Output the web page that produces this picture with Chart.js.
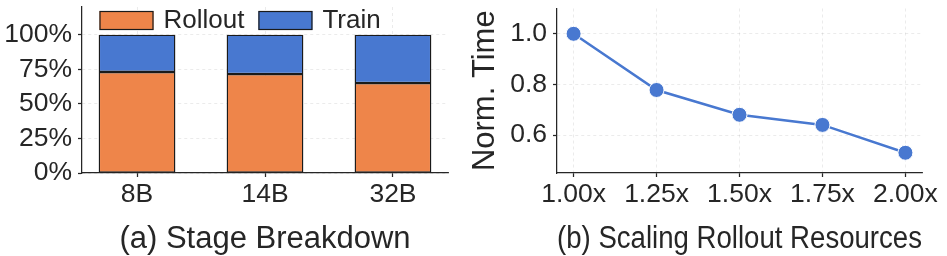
<!DOCTYPE html>
<html>
<head>
<meta charset="utf-8">
<script src="https://cdn.jsdelivr.net/npm/chart.js@4"></script>
<style>
  html, body { margin: 0; padding: 0; background: #fff; }
  #wrap { position: relative; width: 947px; height: 256px; }
  #wrap canvas { position: absolute; top: 0; }
</style>
</head>
<body>
<div id="wrap">
  <canvas id="chart-stage" width="470" height="256" style="left:0"></canvas>
  <canvas id="chart-scale" width="477" height="256" style="left:470px"></canvas>
</div>
<script>
// ─── DATA ─────────────────────────────────────────────────────────────────────
const models = ['8B', '14B', '32B'];
const rolloutShare = [0.73, 0.715, 0.65];
const trainShare = [0.27, 0.285, 0.35];
const shareTicks = [0, 0.25, 0.5, 0.75, 1.0];

const resources = [1.00, 1.25, 1.50, 1.75, 2.00];
const normTime = [1.00, 0.778, 0.68, 0.64, 0.53];
const timeTicks = [0.6, 0.8, 1.0];

// ─── STYLE ────────────────────────────────────────────────────────────────────
const ORANGE = '#ee854a', BLUE = '#4878d0', EDGE = '#1a1a1a';
const TEXT = '#262626', AXIS = '#262626', GRID = 'rgba(0,0,0,.10)';
const FAMILY = '"Liberation Sans", Arial, Helvetica, sans-serif';
const font = { family: FAMILY, size: 26.5 };
const titleFont = { family: FAMILY, size: 31 };

const grid = { color: GRID, lineWidth: 0.8, tickColor: AXIS, tickLength: 4, tickWidth: 1.25, offset: false };
const border = { color: AXIS, width: 1.25, dash: [3, 3] };
const fixTicks = vals => s => { s.ticks = vals.map(v => ({ value: v })); };
// pin axis box sizes so the plot area lands where the reference has it
const fitY = w => s => { s.width = w; s.paddingTop = 0; s.paddingBottom = 0; };
const fitX = h => s => { s.height = h; s.paddingLeft = 0; s.paddingRight = 0; };

// legend drawn inside the plot area, top left
const insideLegend = {
  id: 'insideLegend',
  afterDatasetsDraw(chart) {
    const { ctx, chartArea } = chart;
    let x = chartArea.left + 17.5;
    const top = chartArea.top + 4, bw = 54, bh = 19;
    ctx.save();
    ctx.font = `26px ${FAMILY}`;
    ctx.textBaseline = 'middle';
    chart.data.datasets.forEach(ds => {
      ctx.fillStyle = ds.backgroundColor;
      ctx.fillRect(x, top, bw, bh);
      ctx.strokeStyle = EDGE; ctx.lineWidth = 1.2;
      ctx.strokeRect(x + .5, top + .5, bw - 1, bh - 1);
      x += bw + 10;
      ctx.fillStyle = TEXT;
      ctx.fillText(ds.label, x, top + bh / 2);
      x += ctx.measureText(ds.label).width + 14;
    });
    ctx.restore();
  }
};

Chart.defaults.font.family = FAMILY;
Chart.defaults.color = TEXT;

// ─── (a) STAGE BREAKDOWN ──────────────────────────────────────────────────────
const barSet = (label, vals, color) => ({
  label, data: vals.map((v, i) => ({ x: i, y: v })),
  backgroundColor: color, borderColor: EDGE, borderWidth: 1.4, borderSkipped: false,
  barPercentage: 0.6, categoryPercentage: 1
});

new Chart(document.getElementById('chart-stage'), {
  type: 'bar',
  data: { datasets: [barSet('Rollout', rolloutShare, ORANGE), barSet('Train', trainShare, BLUE)] },
  options: {
    responsive: false, animation: false,
    layout: { padding: { left: 5.5, right: 22, top: 7, bottom: 0 } },
    plugins: { legend: { display: false }, tooltip: { enabled: false } },
    scales: {
      x: {
        type: 'linear', stacked: true, offset: false, min: -0.43, max: 2.43,
        afterBuildTicks: fixTicks(models.map((m, i) => i)),
        afterFit: fitX(83),
        ticks: { font, color: TEXT, padding: 1.5, maxRotation: 0, autoSkip: false, callback: v => models[v] },
        grid, border,
        title: { display: true, text: '(a) Stage Breakdown', font: titleFont, color: TEXT, padding: { top: 10, bottom: -1.6 } }
      },
      y: {
        stacked: true, min: 0, max: 1.2,
        afterBuildTicks: fixTicks(shareTicks),
        afterFit: fitY(76.5),
        ticks: { font, color: TEXT, padding: 6, callback: v => Math.round(v * 100) + '%' },
        grid, border
      }
    }
  },
  plugins: [insideLegend]
});

// ─── (b) SCALING ROLLOUT RESOURCES ────────────────────────────────────────────
new Chart(document.getElementById('chart-scale'), {
  type: 'line',
  data: { datasets: [{
    data: resources.map((r, i) => ({ x: r, y: normTime[i] })),
    borderColor: BLUE, backgroundColor: BLUE, borderWidth: 2.5, tension: 0,
    pointRadius: 7.5, pointBackgroundColor: BLUE, pointBorderColor: '#fff', pointBorderWidth: 1
  }]},
  options: {
    responsive: false, animation: false,
    layout: { padding: { left: 0, right: 25, top: 7, bottom: 0 } },
    plugins: { legend: { display: false }, tooltip: { enabled: false } },
    scales: {
      x: {
        type: 'linear', offset: false, min: 0.95, max: 2.05,
        afterBuildTicks: fixTicks(resources),
        afterFit: fitX(83),
        ticks: { font, color: TEXT, padding: 1.5, maxRotation: 0, autoSkip: false, callback: v => v.toFixed(2) + 'x' },
        grid, border,
        title: { display: true, text: '(b) Scaling Rollout Resources', font: titleFont, color: TEXT, padding: { top: 10, bottom: -1.6 } }
      },
      y: {
        min: 0.45, max: 1.1,
        afterBuildTicks: fixTicks(timeTicks),
        afterFit: fitY(87),
        ticks: { font, color: TEXT, padding: 6, callback: v => v.toFixed(1) },
        grid, border,
        title: { display: true, text: 'Norm. Time', font: titleFont, color: TEXT, padding: { top: -2.8, bottom: 0 } }
      }
    }
  }
});
</script>
</body>
</html>
